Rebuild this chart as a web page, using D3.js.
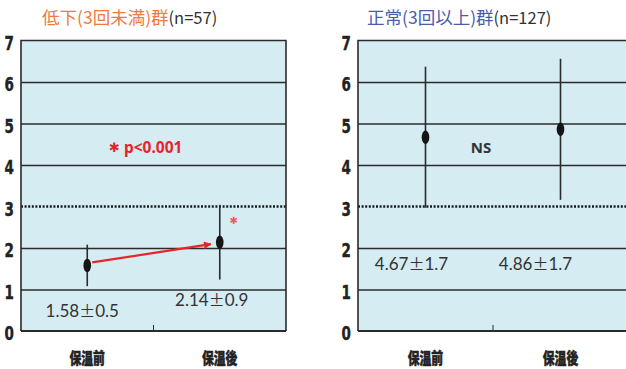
<!DOCTYPE html>
<html>
<head>
<meta charset="utf-8">
<script src="https://cdn.jsdelivr.net/npm/d3@7"></script>
<style>
  html, body { margin: 0; padding: 0; background: #fff; }
  svg { display: block; }
</style>
</head>
<body>
<svg id="chart" width="626" height="369"></svg>
<script>
// Panel titles and group sizes
const groupTitles = ["低下(3回未満)群", "正常(3回以上)群"];
const groupSizes = ["(n=57)", "(n=127)"];
const titleColors = ["#f07a3e", "#4a5cae"];

// Measurement phases on the x axis
const phases = ["保温前", "保温後"];

// Mean ± SD per phase
const lowMeans = [1.58, 2.14];
const lowSDs = [0.5, 0.9];
const normalMeans = [4.67, 4.86];
const normalSDs = [1.7, 1.7];

// y axis
const yTicks = [0, 1, 2, 3, 4, 5, 6, 7];
const threshold = 3;

// Significance notes
const significance = ["p<0.001", "NS"];

const svg = d3.select("#chart");
const bg = "#d5ecf3";
const ink = "#2b2b2b";

const panels = [
  { left: 21, right: 286, means: lowMeans, sds: lowSDs, title: 0 },
  { left: 358, right: 628, means: normalMeans, sds: normalSDs, title: 1 }
];
const plotTop = 40.5, plotBottom = 331;

panels.forEach((p, i) => {
  const g = svg.append("g");
  const x = d3.scalePoint().domain(phases).range([p.left, p.right]).padding(0.5);
  const y = d3.scaleLinear().domain([0, 7]).range([plotBottom, plotTop]);

  // plot area
  g.append("rect")
    .attr("x", p.left).attr("y", plotTop)
    .attr("width", p.right - p.left).attr("height", plotBottom - plotTop)
    .attr("fill", bg);

  // solid gridlines
  const grid = g.append("g")
    .attr("transform", `translate(${p.left},0)`)
    .call(d3.axisLeft(y).tickValues(yTicks.filter(t => t > 0 && t < 7 && t !== threshold))
      .tickSize(-(p.right - p.left)).tickFormat(""));
  grid.select(".domain").remove();
  grid.selectAll("line").attr("stroke", ink).attr("stroke-width", 1.6);

  // reference line at the threshold
  g.append("line")
    .attr("x1", p.left).attr("x2", p.right)
    .attr("y1", y(threshold)).attr("y2", y(threshold))
    .attr("stroke", "#1a1a1a").attr("stroke-width", 2.4)
    .attr("stroke-dasharray", "2,1.6");

  // frame
  g.append("path")
    .attr("d", `M${p.left},${plotBottom}V${plotTop}H${p.right}V${plotBottom}`)
    .attr("fill", "none").attr("stroke", ink).attr("stroke-width", 1.6);
  g.append("line")
    .attr("x1", p.left).attr("x2", p.right)
    .attr("y1", plotBottom).attr("y2", plotBottom)
    .attr("stroke", ink).attr("stroke-width", 2);

  // center tick on the bottom edge
  const mid = (x(phases[0]) + x(phases[1])) / 2;
  g.append("line")
    .attr("x1", mid).attr("x2", mid)
    .attr("y1", plotBottom).attr("y2", plotBottom - 6)
    .attr("stroke", ink).attr("stroke-width", 1);

  // y tick labels
  const ax = g.append("g")
    .attr("transform", `translate(${p.left - 7},0)`)
    .call(d3.axisLeft(y).tickValues(yTicks).tickSize(0).tickPadding(0).tickFormat(d3.format("d")));
  ax.select(".domain").remove();
  ax.selectAll("text")
    .attr("font-family", "'Liberation Sans Narrow', 'DejaVu Sans Condensed', sans-serif")
    .attr("font-weight", "bold")
    .attr("font-size", 15)
    .attr("fill", "#222")
    .attr("stroke", "#222").attr("stroke-width", 0.3)
    .attr("dy", null)
    .attr("y", 0)
    .attr("transform", "translate(0,8.5) scale(1,1.25)");

  // x labels
  g.selectAll(".xlab").data(phases).join("text")
    .attr("x", d => x(d)).attr("y", 364)
    .attr("text-anchor", "middle")
    .attr("font-family", "'Noto Sans CJK JP', sans-serif")
    .attr("font-weight", 900)
    .attr("font-size", 15.5)
    .attr("fill", "#222")
    .attr("stroke", "#222").attr("stroke-width", 0.5)
    .attr("transform", d => `translate(${x(d)},0) scale(0.76,1) translate(${-x(d)},0)`)
    .text(d => d);

  // error bars
  g.selectAll(".err").data(phases).join("line")
    .attr("x1", d => x(d)).attr("x2", d => x(d))
    .attr("y1", (d, k) => y(p.means[k] + p.sds[k]))
    .attr("y2", (d, k) => y(p.means[k] - p.sds[k]))
    .attr("stroke", ink).attr("stroke-width", 1.6);

  // means
  g.selectAll(".dot").data(phases).join("ellipse")
    .attr("cx", d => x(d))
    .attr("cy", (d, k) => y(p.means[k]))
    .attr("rx", 3.8).attr("ry", 6.8)
    .attr("fill", "#151515");

  // title
  const t = svg.append("text")
    .attr("x", p.left + (i === 0 ? 21 : 9)).attr("y", 24)
    .attr("font-family", "'Noto Sans CJK JP', sans-serif")
    .attr("font-size", 17.5);
  t.append("tspan").attr("fill", titleColors[p.title]).text(groupTitles[p.title]);
  t.append("tspan").attr("fill", "#333").attr("font-size", 16.5).text(groupSizes[p.title]);

  p.x = x; p.y = y; p.g = g;
});

// value labels (mean ± SD)
const labelFont = "Lato, 'Open Sans', sans-serif";
function valueLabel(panel, k, dx, yv) {
  const t = panel.g.append("text")
    .attr("x", panel.x(phases[k]) + dx).attr("y", panel.y(yv))
    .attr("text-anchor", "middle")
    .attr("font-family", labelFont)
    .attr("font-size", 17)
    .attr("fill", "#333");
  t.append("tspan").text(panel.means[k].toFixed(2));
  t.append("tspan").attr("font-family", "'Noto Sans CJK JP', sans-serif").attr("font-size", 16).text("±");
  t.append("tspan").text(panel.sds[k].toFixed(1));
}
valueLabel(panels[0], 0, -5, 0.33);
valueLabel(panels[0], 1, -8, 0.6);
valueLabel(panels[1], 0, -14, 1.48);
valueLabel(panels[1], 1, -25, 1.48);

// improvement arrow in the low group
{
  const p = panels[0];
  const defs = svg.append("defs");
  defs.append("marker")
    .attr("id", "arrowHead").attr("viewBox", "0 0 10 10")
    .attr("refX", 9).attr("refY", 5)
    .attr("markerWidth", 4).attr("markerHeight", 3.4)
    .attr("orient", "auto")
    .append("path").attr("d", "M0,0L10,5L0,10Z").attr("fill", "#e8242a");
  p.g.append("line")
    .attr("x1", p.x(phases[0]) + 5).attr("y1", p.y(lowMeans[0]) - 3)
    .attr("x2", p.x(phases[1]) - 9).attr("y2", p.y(lowMeans[1]) + 2)
    .attr("stroke", "#e8242a").attr("stroke-width", 2.2)
    .attr("marker-end", "url(#arrowHead)");

  // small asterisk next to the post value
  p.g.append("text")
    .attr("x", p.x(phases[1]) + 14).attr("y", 224)
    .attr("font-family", "'DejaVu Sans', sans-serif")
    .attr("font-size", 10).attr("fill", "#ef5a60")
    .attr("text-anchor", "middle")
    .text("✱");

  // significance note
  const t = p.g.append("text")
    .attr("x", 109).attr("y", p.y(4.28))
    .attr("font-family", "'Noto Sans', sans-serif")
    .attr("font-weight", "bold")
    .attr("font-size", 15.5)
    .attr("fill", "#e8242a");
  t.append("tspan").attr("font-family", "'DejaVu Sans', sans-serif").attr("font-size", 13).attr("dy", -1).text("✱");
  t.append("tspan").attr("dx", 4).attr("dy", 1).text(significance[0]);
}

// significance note in the normal group
{
  const p = panels[1];
  p.g.append("text")
    .attr("x", (p.x(phases[0]) + p.x(phases[1])) / 2 - 12).attr("y", p.y(4.28))
    .attr("text-anchor", "middle")
    .attr("font-family", "'Noto Sans', sans-serif")
    .attr("font-weight", "bold")
    .attr("font-size", 15)
    .attr("fill", "#333")
    .text(significance[1]);
}
</script>
</body>
</html>
